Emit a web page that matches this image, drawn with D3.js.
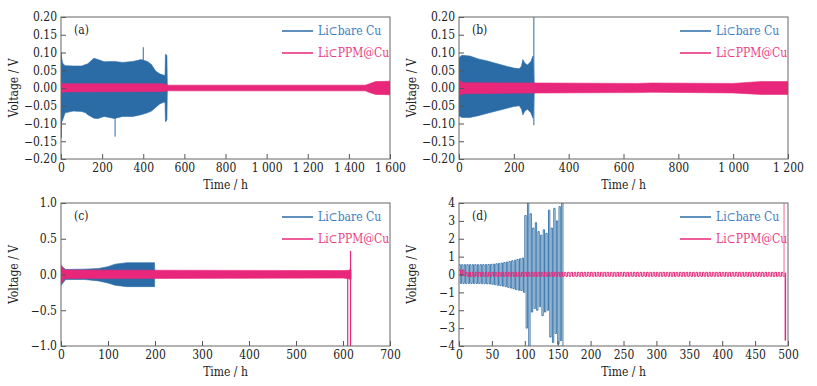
<!DOCTYPE html>
<html>
<head>
<meta charset="utf-8">
<script src="https://cdn.jsdelivr.net/npm/d3@7/dist/d3.min.js"></script>
<style>
  body { margin: 0; background: #fff; }
</style>
</head>
<body>
<div id="vis-container"></div>
<script>
// ---- data ----
// envelopes: [time h, upper V, lower V]
var blueA = [[0,0.095,-0.1],[8,0.07,-0.09],[20,0.063,-0.07],[60,0.062,-0.065],[100,0.062,-0.066],[120,0.066,-0.07],
  [130,0.068,-0.075],[160,0.084,-0.085],[180,0.08,-0.086],[210,0.074,-0.08],[260,0.075,-0.086],[300,0.072,-0.08],
  [350,0.075,-0.08],[390,0.08,-0.075],[420,0.075,-0.07],[440,0.066,-0.065],[460,0.048,-0.055],[480,0.04,-0.045],
  [500,0.036,-0.04],[506,0.036,-0.04],[508,0.095,-0.095],[515,0.092,-0.09],[517,0.01,-0.01]];
var pinkA = [[0,0.018,-0.02],[8,0.012,-0.011],[500,0.012,-0.01],[520,0.008,-0.008],[1480,0.008,-0.008],
  [1500,0.012,-0.013],[1530,0.018,-0.018],[1600,0.019,-0.019]];
var blueSpikesA = [[2,-0.14,0.1],[263,-0.137,0],[400,0,0.115]];

var blueB = [[0,0.085,-0.078],[10,0.092,-0.083],[40,0.09,-0.083],[70,0.082,-0.078],[100,0.077,-0.072],
  [150,0.066,-0.062],[200,0.056,-0.052],[220,0.054,-0.05],[228,0.062,-0.06],[233,0.08,-0.076],[240,0.07,-0.065],
  [250,0.065,-0.06],[262,0.075,-0.07],[270,0.09,-0.085],[274,0.01,-0.01]];
var pinkB = [[0,0.022,-0.022],[15,0.015,-0.016],[300,0.014,-0.014],[650,0.013,-0.013],[700,0.014,-0.012],
  [1000,0.013,-0.014],[1100,0.018,-0.018],[1200,0.018,-0.018]];
var blueSpikesB = [[273,-0.105,0.25]];

var blueC = [[0,0.13,-0.15],[4,0.1,-0.12],[10,0.07,-0.07],[50,0.075,-0.07],[80,0.085,-0.09],[100,0.11,-0.12],
  [115,0.145,-0.15],[140,0.165,-0.17],[199,0.165,-0.17],[199.5,0,0]];
var pinkC = [[0,0.13,-0.15],[3,0.1,-0.1],[8,0.063,-0.055],[200,0.06,-0.055],[600,0.055,-0.05],[612,0.06,-0.06],
  [617,0.08,-0.08],[617.5,0,0]];
var pinkSpikesC = [[610,-1.1,0],[616,-1.1,0.33]];

// panel (d): one high/low pair per 4 h cycle of Li|bare Cu
var cycleD = 4;
var blueHighD = [0.55,0.55,0.55,0.55,0.55,0.55,0.55,0.55,0.55,0.55,0.56,0.56,0.57,0.58,0.6,0.62,0.64,0.67,0.7,0.73,
  0.77,0.8,0.84,0.88,0.92,3.3,4.1,3.4,2.6,2.9,2.4,2.2,2.5,2.3,3.6,2.6,3.7,3.0,3.8,4.1];
var blueLowD = [-0.5,-0.5,-0.5,-0.5,-0.5,-0.5,-0.5,-0.5,-0.51,-0.51,-0.52,-0.53,-0.55,-0.57,-0.6,-0.62,-0.65,-0.68,-0.72,-0.76,
  -0.8,-0.85,-0.88,-0.9,-1.0,-3.0,-4.1,-2.1,-1.9,-2.0,-1.8,-2.3,-2.1,-2.0,-3.5,-3.8,-3.3,-3.9,-3.7,-4.1];
// Li|PPM@Cu segments: [start h, end h, high V, low V], 5 h cycles
var cyclePinkD = 5;
var pinkSegD = [[0,10,0.25,-0.05],[10,495,0.12,-0.1]];
var pinkSpikesD = [[494,-0.1,4.2]];
var pinkDeepSpikesD = [[496,-3.7,0.1]];

var xTicksA = [0,200,400,600,800,1000,1200,1400,1600];
var xTicksB = [0,200,400,600,800,1000,1200];
var xTicksC = [0,100,200,300,400,500,600,700];
var xTicksD = [0,50,100,150,200,250,300,350,400,450,500];
var yTicksAB = [-0.2,-0.15,-0.1,-0.05,0,0.05,0.1,0.15,0.2];
var yTicksC = [-1,-0.5,0,0.5,1];
var yTicksD = [-4,-3,-2,-1,0,1,2,3,4];

var legendNames = ["Li\u2282bare Cu", "Li\u2282PPM@Cu"];

// ---- styles ----
var blue = "#2b6ca6", pink = "#e8267a", lightPink = "#f29bbd";
var blueText = "#3d7cc0", pinkText = "#ea3d85";
var serif = "'DejaVu Serif Condensed', 'DejaVu Serif', serif";
var fs = 12;

var width = 817, height = 386;
var svg = d3.select("#vis-container").append("svg")
    .attr("width", width)
    .attr("height", height)
    .attr("font-family", serif);

var fmtX = function(d) { return d3.format(",")(d).replace(",", " "); };

var panels = [
  {id: "a", label: "(a)", x0: 61, x1: 390, y0: 17, y1: 159, xMax: 1600, yMin: -0.2, yMax: 0.2,
   xTicks: xTicksA, yTicks: yTicksAB, yFmt: d3.format(".2f"), blue: blueA, pink: pinkA, blueSpikes: blueSpikesA},
  {id: "b", label: "(b)", x0: 459, x1: 788, y0: 17, y1: 159, xMax: 1200, yMin: -0.2, yMax: 0.2,
   xTicks: xTicksB, yTicks: yTicksAB, yFmt: d3.format(".2f"), blue: blueB, pink: pinkB, blueSpikes: blueSpikesB},
  {id: "c", label: "(c)", x0: 61, x1: 390, y0: 203, y1: 346, xMax: 700, yMin: -1, yMax: 1,
   xTicks: xTicksC, yTicks: yTicksC, yFmt: d3.format(".1f"), blue: blueC, pink: pinkC, pinkSpikes: pinkSpikesC},
  {id: "d", label: "(d)", x0: 459, x1: 788, y0: 203, y1: 346, xMax: 500, yMin: -4, yMax: 4,
   xTicks: xTicksD, yTicks: yTicksD, yFmt: d3.format("d")}
];

panels.forEach(function(p) {
  var w = p.x1 - p.x0, h = p.y1 - p.y0;
  var x = d3.scaleLinear().domain([0, p.xMax]).range([0, w]);
  var y = d3.scaleLinear().domain([p.yMin, p.yMax]).range([h, 0]);

  var g = svg.append("g").attr("transform", "translate(" + p.x0 + "," + p.y0 + ")");

  g.append("clipPath").attr("id", "clip-" + p.id)
    .append("rect").attr("width", w).attr("height", h);
  var plot = g.append("g").attr("clip-path", "url(#clip-" + p.id + ")");

  var area = d3.area()
      .x(function(d) { return x(d[0]); })
      .y0(function(d) { return y(d[2]); })
      .y1(function(d) { return y(d[1]); });

  function spikes(data, color, sw) {
    plot.selectAll(null).data(data).enter().append("line")
      .attr("x1", function(d) { return x(d[0]); })
      .attr("x2", function(d) { return x(d[0]); })
      .attr("y1", function(d) { return y(d[1]); })
      .attr("y2", function(d) { return y(d[2]); })
      .attr("stroke", color).attr("stroke-width", sw);
  }

  if (p.blue) {
    plot.append("path").attr("d", area(p.blue))
      .attr("fill", blue).attr("stroke", blue).attr("stroke-width", 0.6);
  }
  if (p.blueSpikes) spikes(p.blueSpikes, blue, 1);
  if (p.pink) {
    plot.append("path").attr("d", area(p.pink))
      .attr("fill", pink).attr("stroke", pink).attr("stroke-width", 0.6);
  }
  if (p.pinkSpikes) spikes(p.pinkSpikes, pink, 1.2);

  if (p.id === "d") {
    // square-wave traces, one step per cycle
    var line = d3.line().x(function(d) { return x(d[0]); }).y(function(d) { return y(d[1]); });
    var bluePts = [];
    blueHighD.forEach(function(hi, i) {
      var t = i * cycleD, lo = blueLowD[i];
      bluePts.push([t, hi], [t + cycleD / 2, hi], [t + cycleD / 2, lo], [t + cycleD, lo]);
    });
    plot.append("path").attr("d", line(bluePts))
      .attr("fill", "none").attr("stroke", blue).attr("stroke-width", 0.9);

    var pinkPts = [];
    pinkSegD.forEach(function(s) {
      for (var t = s[0]; t < s[1]; t += cyclePinkD) {
        var half = Math.min(t + cyclePinkD / 2, s[1]), end = Math.min(t + cyclePinkD, s[1]);
        pinkPts.push([t, s[2]], [half, s[2]], [half, s[3]], [end, s[3]]);
      }
    });
    plot.append("path").attr("d", line(pinkPts))
      .attr("fill", "none").attr("stroke", pink).attr("stroke-width", 1);
    spikes(pinkSpikesD, lightPink, 1.5);
    spikes(pinkDeepSpikesD, pink, 1.5);
  }

  // axes with inward ticks
  var xAxis = g.append("g").attr("transform", "translate(0," + h + ")")
    .call(d3.axisBottom(x).tickValues(p.xTicks).tickFormat(fmtX).tickSize(-5).tickPadding(4));
  var yAxis = g.append("g")
    .call(d3.axisLeft(y).tickValues(p.yTicks).tickFormat(p.yFmt).tickSize(-5).tickPadding(4));
  [xAxis, yAxis].forEach(function(a) {
    a.attr("font-family", serif).attr("font-size", fs);
    a.select(".domain").remove();
    a.selectAll("line").attr("stroke", "#555");
    a.selectAll("text").attr("fill", "#222");
  });

  g.append("rect").attr("width", w).attr("height", h)
    .attr("fill", "none").attr("stroke", "#666").attr("stroke-width", 1);

  g.append("text").attr("x", w / 2).attr("y", h + 30)
    .attr("text-anchor", "middle").attr("font-size", fs).attr("fill", "#222").text("Time / h");
  g.append("text").attr("transform", "translate(" + (-43) + "," + (h / 2) + ") rotate(-90)")
    .attr("text-anchor", "middle").attr("font-size", fs).attr("fill", "#222").text("Voltage / V");

  g.append("text").attr("x", 13).attr("y", 17)
    .attr("font-size", fs).attr("fill", "#222").text(p.label);

  // legend
  var lx = w - 108;
  [[blue, blueText, 14], [pink, pinkText, 36]].forEach(function(l, i) {
    g.append("line").attr("x1", lx).attr("x2", lx + 31)
      .attr("y1", l[2]).attr("y2", l[2]).attr("stroke", l[0]).attr("stroke-width", 1.5);
    g.append("text").attr("x", lx + 36).attr("y", l[2] + 4)
      .attr("font-size", fs).attr("fill", l[1]).text(legendNames[i]);
  });
});
</script>
</body>
</html>
